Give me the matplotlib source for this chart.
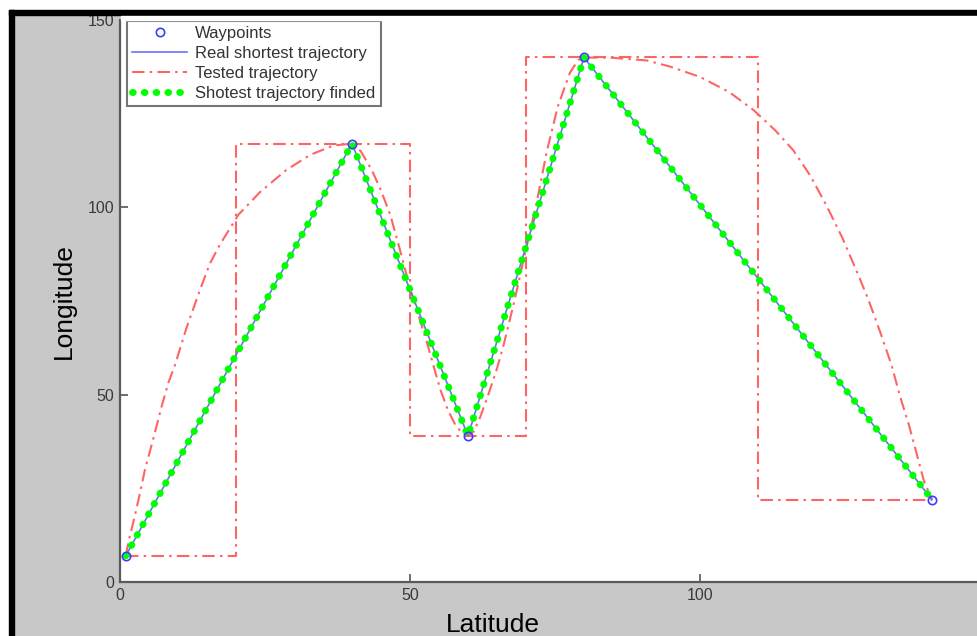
import matplotlib
matplotlib.use("Agg")
import matplotlib.pyplot as plt
from matplotlib.patches import Rectangle

plt.rcParams['font.family'] = ['Liberation Sans', 'DejaVu Sans']

# waypoints (latitude, longitude)
wp_x = [1, 40, 60, 80, 140]
wp_y = [7, 117, 39, 140, 22]

# tested trajectory 1: rectangular steps between waypoints
step_x = [1, 20, 20, 50, 50, 70, 70, 110, 110, 140]
step_y = [7, 7, 117, 117, 39, 39, 140, 140, 22, 22]

# tested trajectory 2: smooth curve
curve_x = [1, 1.5, 2.3, 3.2, 4.3, 5.7, 7.2, 8.3, 9.5, 11.5, 13.8, 15.5, 17.2,
           20.4, 24.1, 28.7, 32.8, 36.8, 40,
           41.5, 43.4, 45, 46.6, 48.3, 50, 51.5, 52.9, 54, 55.2, 56.5, 57.8, 59, 60,
           61, 62.1, 63.5, 65, 66.1, 68, 69.8, 71.8, 73.6, 75.5, 77.6, 79, 80,
           85, 90.8, 95, 100, 105, 109.2, 113, 116.1, 119, 121.8, 124.5, 127,
           129, 131, 133, 134.5, 136, 137.4, 138.6, 140]
curve_y = [7, 11, 16, 22, 30, 38, 47, 53, 58, 68, 78, 85, 90,
           98, 104, 110, 114, 116.5, 117,
           115, 110, 104.5, 98, 88.5, 78.5, 71, 64, 58, 51.5, 46, 42, 39.7, 39,
           40.2, 44, 50, 57, 63, 75, 87.5, 101, 115, 127, 136, 139.3, 140,
           139.9, 139.2, 137.5, 134.8, 130.8, 126, 120.5, 115.2, 108.5, 100.5, 92, 83,
           75.5, 67, 58, 49.5, 42, 34, 27, 22]

W, H = 977, 636
fig = plt.figure(figsize=(W / 100, H / 100), dpi=100, facecolor='#c8c8c8')

# screenshot frame: white margin, black border
fig.patches.append(Rectangle((0, 1 - 10 / H), 1, 10 / H, transform=fig.transFigure,
                             color='white', zorder=0))
fig.patches.append(Rectangle((0, 0), 9 / W, 1, transform=fig.transFigure,
                             color='white', zorder=0))
fig.patches.append(Rectangle((9 / W, 1 - 15 / H), 1, 5 / H, transform=fig.transFigure,
                             color='black', zorder=1))
fig.patches.append(Rectangle((9 / W, 0), 5 / W, 1 - 10 / H, transform=fig.transFigure,
                             color='black', zorder=1))
fig.patches.append(Rectangle((121 / W, 1 - 20 / H), 1, 4 / H, transform=fig.transFigure,
                             color='white', zorder=1))

ax = fig.add_axes([120 / W, (H - 582) / H, 870 / W, 562 / H])
ax.set_facecolor('white')

red = '#ff6464'
dashdot = (0, (6, 2.5, 1.2, 2.5))
ax.plot(wp_x, wp_y, 'o', mfc='none', mec='#3c3cff', ms=6, mew=1.2, label='Waypoints', zorder=5)
ax.plot(wp_x, wp_y, '-', color='#6e6eff', lw=1.2, label='Real shortest trajectory', zorder=3)
ax.plot(step_x, step_y, color=red, lw=1.5, linestyle=dashdot, label='Tested trajectory', zorder=2)
ax.plot(curve_x, curve_y, color=red, lw=1.5, linestyle=dashdot, zorder=2)
ax.plot(wp_x, wp_y, color='#00ff00', lw=5, linestyle=(0, (0.1, 1.6)),
        dash_capstyle='round', label='Shotest trajectory finded', zorder=4)

ax.set_xlim(0, 150)
ax.set_ylim(0, 150)
ax.set_xticks([0, 50, 100, 150])
ax.set_yticks([0, 50, 100, 150])
ax.tick_params(direction='in', length=6, width=1.2, color='#555555',
               labelsize=11.5, labelcolor='#3a3a3a', pad=4)
for s in ['top', 'right']:
    ax.spines[s].set_visible(False)
for s in ['left', 'bottom']:
    ax.spines[s].set_color('#5a5a5a')
    ax.spines[s].set_linewidth(1.6)

ax.set_xlabel('Latitude', fontsize=19)
ax.set_ylabel('Longitude', fontsize=19)
ax.xaxis.set_label_coords((493 - 120) / 870, -(613 - 582) / 562)
ax.yaxis.set_label_coords(-(120 - 76) / 870, 0.5)

leg = ax.legend(loc='upper left', bbox_to_anchor=(7 / 870, 1 - 1 / 562), fontsize=12,
                frameon=True, fancybox=False, handlelength=3.3, borderaxespad=0,
                labelspacing=0.3, borderpad=0.3, handletextpad=0.5)
leg.get_frame().set_edgecolor('#555555')
leg.get_frame().set_linewidth(1.5)
for t in leg.get_texts():
    t.set_color('#333333')

fig.savefig('out.png', dpi=100, facecolor=fig.get_facecolor())
